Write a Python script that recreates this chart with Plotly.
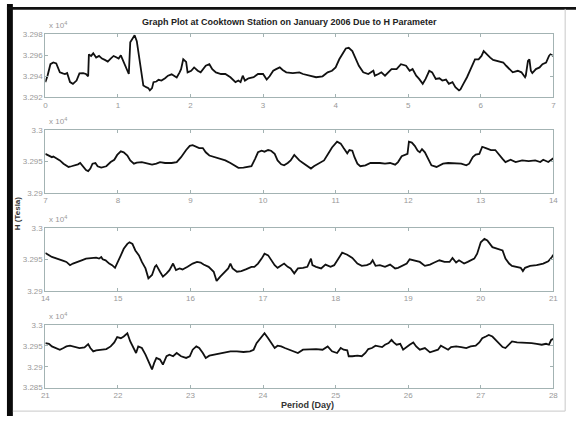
import plotly.graph_objects as go

TITLE = "Graph Plot at Cooktown Station on January 2006 Due to H Parameter"
Y_LABEL = "H (Tesla)"
X_LABEL = "Period (Day)"

# ---- Panel 1: days 0-7 (H in nT) ----
days1 = [0.00, 0.03, 0.07, 0.11, 0.15, 0.20, 0.24, 0.27, 0.30, 0.34, 0.38, 0.43, 0.47, 0.52, 0.56, 0.59,
         0.60, 0.63, 0.66, 0.70, 0.74, 0.78, 0.82, 0.86, 0.90, 0.94, 0.97, 1.01, 1.04, 1.08, 1.12, 1.15,
         1.17, 1.20, 1.23, 1.26, 1.29, 1.31, 1.33, 1.35, 1.39, 1.42, 1.44, 1.47, 1.49, 1.53, 1.56, 1.60,
         1.65, 1.69, 1.74, 1.78, 1.81, 1.85, 1.87, 1.90, 1.94, 1.96, 2.01, 2.05, 2.10, 2.14, 2.21, 2.26,
         2.30, 2.35, 2.42, 2.48, 2.55, 2.62, 2.66, 2.69, 2.72, 2.75, 2.80, 2.87, 2.93, 3.00, 3.05, 3.09,
         3.14, 3.18, 3.23, 3.27, 3.32, 3.41, 3.50, 3.55, 3.64, 3.73, 3.82, 3.89, 3.95, 4.00, 4.05, 4.09,
         4.14, 4.18, 4.23, 4.27, 4.32, 4.38, 4.45, 4.52, 4.54, 4.59, 4.63, 4.68, 4.72, 4.77, 4.84, 4.90,
         4.97, 5.02, 5.06, 5.11, 5.15, 5.20, 5.24, 5.29, 5.33, 5.38, 5.43, 5.47, 5.52, 5.56, 5.61, 5.65,
         5.70, 5.72, 5.76, 5.81, 5.86, 5.92, 5.97, 6.01, 6.04, 6.08, 6.13, 6.17, 6.22, 6.27, 6.31, 6.35,
         6.40, 6.44, 6.51, 6.56, 6.61, 6.62, 6.65, 6.67, 6.69, 6.71, 6.76, 6.81, 6.85, 6.90, 6.94, 6.96,
         7.00]
h1 = [32934.2, 32940.4, 32951.4, 32953.0, 32952.1, 32943.6, 32942.6, 32942.0, 32942.9, 32934.2, 32932.6,
      32935.7, 32942.6, 32942.9, 32942.0, 32939.8, 32960.8, 32959.3, 32961.8, 32957.7, 32959.3, 32956.8,
      32955.5, 32953.9, 32956.8, 32959.3, 32958.3, 32956.8, 32959.9, 32953.6, 32948.3, 32942.0, 32972.5,
      32976.5, 32979.1, 32973.4, 32959.3, 32950.5, 32936.7, 32931.0, 32929.4, 32928.5, 32926.3, 32928.5,
      32934.2, 32934.8, 32936.4, 32935.7, 32937.9, 32940.4, 32941.7, 32939.8, 32938.6, 32943.6, 32946.7,
      32956.1, 32953.6, 32943.6, 32945.1, 32948.3, 32945.1, 32943.6, 32949.9, 32951.4, 32946.7, 32943.6,
      32942.0, 32942.0, 32938.9, 32934.2, 32935.7, 32934.2, 32940.4, 32935.7, 32937.9, 32938.9, 32942.0,
      32942.0, 32936.7, 32939.8, 32945.1, 32946.7, 32948.3, 32945.8, 32943.6, 32942.9, 32943.6, 32942.0,
      32940.4, 32938.9, 32939.8, 32943.6, 32945.1, 32948.3, 32956.1, 32960.8, 32966.5, 32967.1, 32964.0,
      32957.7, 32949.9, 32943.6, 32942.0, 32945.1, 32940.4, 32942.0, 32943.6, 32940.4, 32943.6, 32946.7,
      32946.7, 32951.4, 32949.9, 32945.1, 32946.7, 32940.4, 32937.3, 32932.6, 32937.3, 32945.1, 32943.6,
      32937.3, 32937.9, 32935.7, 32936.7, 32932.6, 32934.2, 32929.4, 32926.3, 32927.2, 32932.6, 32938.9,
      32946.7, 32956.1, 32956.1, 32959.3, 32964.0, 32960.8, 32957.7, 32955.5, 32954.6, 32953.0, 32953.0,
      32949.9, 32946.7, 32943.6, 32945.1, 32943.6, 32938.9, 32940.4, 32954.6, 32956.1, 32945.1, 32942.9,
      32946.7, 32948.3, 32951.4, 32953.0, 32959.3, 32960.8, 32959.3]

# ---- Panel 2: days 7-14 ----
days2 = [7.00, 7.05, 7.09, 7.11, 7.16, 7.20, 7.25, 7.32, 7.36, 7.41, 7.45, 7.48, 7.52, 7.56, 7.59, 7.62,
         7.65, 7.69, 7.72, 7.77, 7.84, 7.90, 7.95, 7.99, 8.04, 8.08, 8.13, 8.17, 8.22, 8.26, 8.33, 8.40,
         8.47, 8.53, 8.58, 8.65, 8.74, 8.81, 8.87, 8.94, 8.99, 9.03, 9.08, 9.12, 9.17, 9.21, 9.26, 9.30,
         9.35, 9.42, 9.48, 9.55, 9.62, 9.66, 9.73, 9.80, 9.84, 9.89, 9.93, 9.98, 10.02, 10.07, 10.11, 10.16,
         10.20, 10.25, 10.29, 10.34, 10.38, 10.43, 10.45, 10.50, 10.55, 10.61, 10.66, 10.70, 10.77, 10.84,
         10.91, 10.95, 11.02, 11.07, 11.11, 11.16, 11.19, 11.23, 11.26, 11.30, 11.34, 11.41, 11.48, 11.55,
         11.61, 11.68, 11.75, 11.82, 11.86, 11.91, 11.95, 11.99, 12.01, 12.05, 12.09, 12.13, 12.16, 12.19,
         12.23, 12.27, 12.32, 12.39, 12.48, 12.55, 12.64, 12.73, 12.80, 12.84, 12.89, 12.93, 12.98, 13.02,
         13.07, 13.14, 13.20, 13.25, 13.30, 13.34, 13.41, 13.48, 13.57, 13.66, 13.75, 13.82, 13.86, 13.93,
         13.98, 14.00]
h2 = [32962.2, 32959.6, 32957.0, 32958.0, 32954.4, 32951.8, 32946.6, 32941.4, 32942.5, 32944.0, 32945.6,
      32947.7, 32942.5, 32936.3, 32934.7, 32938.9, 32946.6, 32947.7, 32942.5, 32940.4, 32942.5, 32949.2,
      32952.8, 32960.6, 32966.3, 32964.8, 32959.6, 32951.8, 32946.6, 32948.2, 32949.2, 32946.6, 32945.1,
      32946.6, 32949.2, 32947.7, 32947.7, 32949.2, 32957.0, 32968.4, 32975.1, 32976.1, 32973.6, 32971.5,
      32971.5, 32964.8, 32959.6, 32958.0, 32957.0, 32954.4, 32951.8, 32947.7, 32942.5, 32939.9, 32940.4,
      32941.4, 32942.5, 32954.4, 32964.8, 32967.3, 32965.8, 32968.4, 32967.3, 32962.2, 32951.8, 32945.6,
      32944.0, 32947.7, 32951.8, 32960.6, 32958.0, 32951.8, 32947.7, 32942.5, 32938.9, 32942.5, 32946.6,
      32951.8, 32964.8, 32972.5, 32981.8, 32978.7, 32971.5, 32963.2, 32968.4, 32967.3, 32957.0, 32946.6,
      32942.5, 32944.0, 32947.7, 32948.2, 32947.7, 32946.6, 32947.7, 32945.1, 32949.2, 32958.5, 32960.6,
      32962.2, 32981.8, 32980.3, 32975.1, 32967.3, 32964.8, 32969.9, 32964.8, 32954.4, 32944.0, 32941.4,
      32946.6, 32947.7, 32947.7, 32946.6, 32944.0, 32946.6, 32957.0, 32961.1, 32962.2, 32973.6, 32971.5,
      32968.4, 32968.4, 32962.2, 32954.4, 32949.2, 32952.8, 32949.2, 32951.8, 32950.8, 32951.8, 32949.2,
      32952.8, 32949.2, 32954.4, 32955.4]

# ---- Panel 3: days 14-21 ----
days3 = [14.00, 14.05, 14.09, 14.16, 14.20, 14.25, 14.29, 14.34, 14.38, 14.43, 14.50, 14.56, 14.63, 14.70,
         14.74, 14.77, 14.79, 14.83, 14.88, 14.92, 14.96, 14.99, 15.04, 15.08, 15.13, 15.16, 15.20, 15.24,
         15.29, 15.33, 15.38, 15.42, 15.47, 15.51, 15.53, 15.58, 15.62, 15.67, 15.71, 15.76, 15.80, 15.85,
         15.89, 15.96, 16.03, 16.09, 16.14, 16.18, 16.25, 16.32, 16.36, 16.41, 16.48, 16.52, 16.55, 16.58,
         16.64, 16.70, 16.77, 16.84, 16.88, 16.93, 16.98, 17.02, 17.07, 17.11, 17.16, 17.20, 17.25, 17.29,
         17.34, 17.38, 17.43, 17.48, 17.55, 17.61, 17.66, 17.68, 17.73, 17.80, 17.86, 17.93, 17.98, 18.02,
         18.09, 18.16, 18.23, 18.30, 18.36, 18.43, 18.48, 18.51, 18.55, 18.61, 18.68, 18.75, 18.82, 18.86,
         18.93, 18.98, 19.02, 19.09, 19.16, 19.23, 19.30, 19.36, 19.43, 19.50, 19.57, 19.61, 19.66, 19.70,
         19.77, 19.82, 19.86, 19.91, 19.95, 20.00, 20.05, 20.09, 20.16, 20.23, 20.30, 20.34, 20.39, 20.43,
         20.48, 20.55, 20.58, 20.61, 20.68, 20.77, 20.86, 20.93, 20.98, 21.00]
h3 = [32960.2, 32956.5, 32953.9, 32951.3, 32950.2, 32947.6, 32946.0, 32940.8, 32943.4, 32946.0, 32948.6,
      32951.3, 32952.3, 32952.8, 32951.3, 32953.9, 32950.2, 32948.6, 32943.4, 32940.8, 32936.6, 32943.4,
      32956.5, 32967.0, 32974.8, 32977.4, 32974.8, 32964.3, 32956.5, 32946.0, 32935.6, 32919.8, 32925.1,
      32938.2, 32940.8, 32930.3, 32922.5, 32927.7, 32932.9, 32943.4, 32932.9, 32935.6, 32934.0, 32938.2,
      32943.4, 32946.0, 32945.0, 32941.8, 32938.2, 32930.3, 32915.7, 32922.5, 32930.3, 32935.6, 32943.4,
      32935.6, 32930.3, 32931.4, 32934.5, 32938.2, 32938.2, 32943.4, 32951.3, 32959.1, 32956.5, 32948.6,
      32940.8, 32936.6, 32940.8, 32943.4, 32938.2, 32935.6, 32927.7, 32935.6, 32936.6, 32938.2, 32951.3,
      32940.8, 32938.2, 32935.6, 32941.8, 32938.2, 32940.8, 32948.6, 32960.7, 32957.5, 32952.3, 32943.4,
      32939.7, 32940.8, 32943.4, 32948.6, 32939.7, 32940.8, 32938.2, 32941.8, 32935.6, 32936.6, 32940.8,
      32943.4, 32950.2, 32948.6, 32946.0, 32939.7, 32941.8, 32945.0, 32948.6, 32946.0, 32946.0, 32952.3,
      32945.0, 32948.6, 32943.4, 32946.0, 32948.6, 32951.3, 32959.1, 32977.4, 32982.7, 32980.1, 32969.6,
      32967.0, 32964.3, 32951.3, 32943.4, 32939.7, 32938.2, 32936.6, 32931.4, 32936.6, 32939.7, 32940.8,
      32943.4, 32947.1, 32953.9, 32957.5]

# ---- Panel 4: days 21-28 ----
days4 = [21.00, 21.05, 21.09, 21.16, 21.20, 21.25, 21.29, 21.34, 21.41, 21.47, 21.54, 21.59, 21.62, 21.66,
         21.70, 21.77, 21.84, 21.90, 21.95, 21.99, 22.04, 22.08, 22.13, 22.17, 22.22, 22.25, 22.28, 22.33,
         22.38, 22.42, 22.47, 22.50, 22.53, 22.58, 22.62, 22.67, 22.71, 22.76, 22.81, 22.87, 22.94, 22.99,
         23.03, 23.08, 23.12, 23.17, 23.21, 23.26, 23.32, 23.39, 23.46, 23.55, 23.64, 23.73, 23.82, 23.87,
         23.91, 23.95, 24.00, 24.02, 24.07, 24.11, 24.16, 24.20, 24.25, 24.30, 24.36, 24.43, 24.48, 24.55,
         24.64, 24.73, 24.82, 24.89, 24.95, 25.02, 25.07, 25.11, 25.16, 25.18, 25.23, 25.30, 25.36, 25.41,
         25.45, 25.50, 25.55, 25.59, 25.64, 25.68, 25.73, 25.77, 25.80, 25.84, 25.89, 25.93, 25.98, 26.02,
         26.07, 26.11, 26.16, 26.23, 26.30, 26.34, 26.41, 26.45, 26.50, 26.55, 26.59, 26.66, 26.73, 26.80,
         26.86, 26.93, 26.98, 27.02, 27.07, 27.11, 27.16, 27.20, 27.25, 27.30, 27.34, 27.39, 27.43, 27.50,
         27.57, 27.64, 27.70, 27.77, 27.84, 27.90, 27.94, 27.97, 28.00]
h4 = [32956.6, 32955.0, 32948.7, 32942.4, 32940.8, 32944.8, 32948.7, 32950.3, 32947.1, 32944.8, 32946.4,
      32954.2, 32944.8, 32936.9, 32939.3, 32940.8, 32942.4, 32948.7, 32958.2, 32970.8, 32968.4, 32972.4,
      32980.3, 32960.6, 32940.8, 32932.9, 32948.7, 32944.8, 32929.0, 32913.2, 32893.5, 32909.3, 32921.1,
      32917.2, 32905.3, 32925.1, 32929.0, 32925.1, 32932.9, 32925.1, 32921.1, 32925.1, 32940.8, 32948.7,
      32944.8, 32932.9, 32921.1, 32926.6, 32929.0, 32930.6, 32932.9, 32936.9, 32936.9, 32935.3, 32936.9,
      32940.8, 32956.6, 32964.5, 32976.3, 32980.3, 32968.4, 32956.6, 32944.8, 32950.3, 32948.7, 32944.8,
      32940.8, 32936.9, 32932.9, 32940.8, 32942.4, 32942.4, 32940.8, 32948.7, 32936.9, 32932.9, 32944.8,
      32940.8, 32939.3, 32925.1, 32925.1, 32926.6, 32925.1, 32932.9, 32942.4, 32944.8, 32950.3, 32948.7,
      32947.1, 32952.7, 32956.6, 32964.5, 32958.2, 32952.7, 32955.0, 32940.8, 32948.7, 32952.7, 32958.2,
      32948.7, 32940.8, 32944.8, 32934.5, 32936.9, 32940.8, 32950.3, 32944.8, 32940.8, 32947.1, 32948.7,
      32947.1, 32944.8, 32948.7, 32950.3, 32958.2, 32968.4, 32972.4, 32976.3, 32972.4, 32964.5, 32956.6,
      32947.1, 32944.8, 32955.0, 32960.6, 32958.2, 32958.2, 32958.2, 32956.6, 32955.0, 32952.7, 32955.0,
      32952.7, 32964.5, 32966.9]

# axis settings per panel (x range, y range in units of 1e4 nT, y ticks)
x_ranges = [[0, 7], [7, 14], [14, 21], [21, 28]]
x_ticks = [list(range(0, 8)), list(range(7, 15)), list(range(14, 22)), list(range(21, 29))]
y_ranges = [[3.292, 3.298], [3.29, 3.30], [3.29, 3.30], [3.285, 3.30]]
y_tickvals = [[3.292, 3.294, 3.296, 3.298], [3.29, 3.295, 3.30], [3.29, 3.295, 3.30],
              [3.285, 3.29, 3.295, 3.30]]
y_ticktext = [["3.292", "3.294", "3.296", "3.298"], ["3.29", "3.295", "3.3"], ["3.29", "3.295", "3.3"],
              ["3.285", "3.29", "3.295", "3.3"]]

series = [(days1, h1), (days2, h2), (days3, h3), (days4, h4)]

W, H = 581, 421
x_dom = [42 / W, 558 / W]
tops = [31, 129, 229, 328]
bottoms = [95, 193, 293, 392]

fig = go.Figure()
axis_col = "#a3b3b3"
FONT = "Liberation Sans, Arial, sans-serif"
tick_font = dict(family=FONT, size=8, color="#999999")

layout = dict(
    width=W, height=H,
    margin=dict(l=0, r=0, t=0, b=0),
    paper_bgcolor="white", plot_bgcolor="white",
    showlegend=False,
)
annotations = []
for i, (d, h) in enumerate(series):
    n = "" if i == 0 else str(i + 1)
    fig.add_trace(go.Scatter(
        x=d, y=[v / 1e4 for v in h], mode="lines",
        line=dict(color="#111111", width=1.8),
        xaxis="x" + n, yaxis="y" + n, hoverinfo="skip"))
    ydom = [1 - bottoms[i] / H, 1 - tops[i] / H]
    layout["xaxis" + n] = dict(
        domain=x_dom, anchor="y" + n, range=x_ranges[i], tickvals=x_ticks[i],
        ticks="inside", ticklen=3, tickcolor=axis_col, showline=True, linecolor=axis_col,
        linewidth=1, mirror="ticks", showgrid=False, zeroline=False, tickfont=tick_font)
    layout["yaxis" + n] = dict(
        domain=ydom, anchor="x" + n, range=y_ranges[i], tickvals=y_tickvals[i],
        ticktext=y_ticktext[i], ticks="inside", ticklen=3, tickcolor=axis_col, showline=True,
        linecolor=axis_col, linewidth=1, mirror="ticks", showgrid=False, zeroline=False,
        tickfont=tick_font)
    annotations.append(dict(
        text="x 10<sup>4</sup>", x=44 / W, y=1 - (tops[i] - 2) / H, xref="paper", yref="paper",
        xanchor="left", yanchor="bottom", showarrow=False,
        font=dict(family=FONT, size=8, color="#999999")))

annotations.append(dict(
    text="<b>" + TITLE + "</b>", x=290 / W, y=1 - 18 / H, xref="paper", yref="paper",
    xanchor="center", yanchor="middle", showarrow=False,
    font=dict(family=FONT, size=9, color="#222")))
annotations.append(dict(
    text="<b>" + Y_LABEL + "</b>", x=14 / W, y=1 - 214 / H, xref="paper", yref="paper",
    xanchor="center", yanchor="middle", showarrow=False, textangle=-90,
    font=dict(family=FONT, size=8, color="#333")))
annotations.append(dict(
    text="<b>" + X_LABEL + "</b>", x=308 / W, y=1 - 410 / H, xref="paper", yref="paper",
    xanchor="center", yanchor="middle", showarrow=False,
    font=dict(family=FONT, size=9, color="#333")))
layout["annotations"] = annotations

# scan border (frame around figure)
layout["shapes"] = [
    dict(type="rect", xref="paper", yref="paper", x0=3 / W, x1=9 / W, y0=0, y1=1,
         fillcolor="#0a0a0a", line=dict(width=0)),
    dict(type="rect", xref="paper", yref="paper", x0=3 / W, x1=1, y0=1 - 6 / H, y1=1 - 3 / H,
         fillcolor="#111", line=dict(width=0)),
    dict(type="line", xref="paper", yref="paper", x0=570 / W, x1=570 / W, y0=1 - 416 / H, y1=1 - 5 / H,
         line=dict(color="#c8c8c8", width=1)),
    dict(type="line", xref="paper", yref="paper", x0=9 / W, x1=570 / W, y0=1 - 416 / H, y1=1 - 416 / H,
         line=dict(color="#c8c8c8", width=1)),
]
fig.update_layout(**layout)
fig.write_html("out.html")
